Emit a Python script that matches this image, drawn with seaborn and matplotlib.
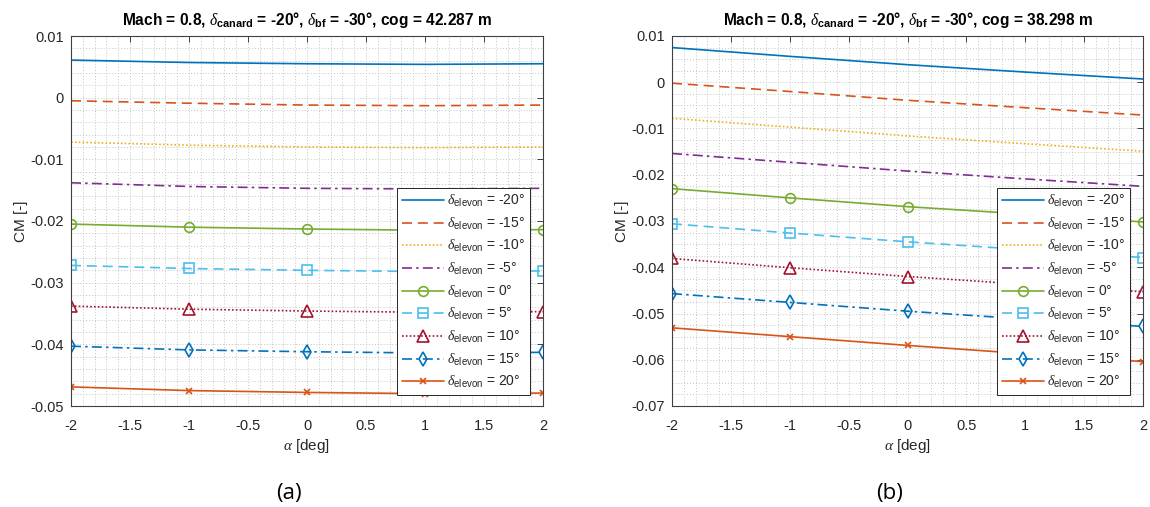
import numpy as np
import pandas as pd
import matplotlib
matplotlib.use("Agg")
import matplotlib.pyplot as plt
import seaborn as sns
from matplotlib.ticker import MultipleLocator

# ---------------- data ----------------
alpha = [-2, -1, 0, 1, 2]
elevon = [-20, -15, -10, -5, 0, 5, 10, 15, 20]

cm_a = {
    -20: [0.0061, 0.0057, 0.0055, 0.0054, 0.0055],
    -15: [-0.0005, -0.0009, -0.0012, -0.0013, -0.0012],
    -10: [-0.0072, -0.0077, -0.0080, -0.0081, -0.0080],
    -5: [-0.0138, -0.0144, -0.0147, -0.0148, -0.0147],
    0: [-0.0205, -0.0210, -0.0213, -0.0215, -0.0214],
    5: [-0.0272, -0.0277, -0.0280, -0.0282, -0.0281],
    10: [-0.0338, -0.0343, -0.0346, -0.0348, -0.0347],
    15: [-0.0403, -0.0409, -0.0412, -0.0414, -0.0413],
    20: [-0.0469, -0.0475, -0.0478, -0.0480, -0.0479],
}
cm_b = {
    -20: [0.0075, 0.0056, 0.0038, 0.0022, 0.0007],
    -15: [-0.0002, -0.0020, -0.0039, -0.0055, -0.0071],
    -10: [-0.0078, -0.0097, -0.0116, -0.0133, -0.0149],
    -5: [-0.0154, -0.0173, -0.0192, -0.0209, -0.0225],
    0: [-0.0230, -0.0250, -0.0269, -0.0285, -0.0302],
    5: [-0.0306, -0.0326, -0.0345, -0.0362, -0.0379],
    10: [-0.0381, -0.0401, -0.0420, -0.0437, -0.0453],
    15: [-0.0457, -0.0476, -0.0495, -0.0512, -0.0528],
    20: [-0.0531, -0.0550, -0.0569, -0.0587, -0.0604],
}
titles = [
    r"Mach = 0.8, $\delta_{\mathbf{canard}}$ = -20°, $\delta_{\mathbf{bf}}$ = -30°, cog = 42.287 m",
    r"Mach = 0.8, $\delta_{\mathbf{canard}}$ = -20°, $\delta_{\mathbf{bf}}$ = -30°, cog = 38.298 m",
]
panel_labels = ["(a)", "(b)"]
ylims = [(-0.05, 0.01), (-0.07, 0.01)]
yminor = [0.002, 0.0025]

# ---------------- styles ----------------
colors = ["#0072BD", "#D95319", "#EDB120", "#7E2F8E", "#77AC30",
          "#4DBEEE", "#A2142F", "#0072BD", "#D95319"]
dash = (0, (6, 3.5))
dot = (0, (1, 1.3))
dashdot = (0, (6, 2.5, 1.5, 2.5))
linestyles = ["-", dash, dot, dashdot, "-", dash, dot, dashdot, "-"]
markers = [None, None, None, None, "o", "s", "^", "d", "x"]
msizes = [0, 0, 0, 0, 7, 6.5, 8, 7.5, 5]

sns.set_theme(style="white")
plt.rcParams["font.family"] = ["Liberation Sans", "DejaVu Sans"]
plt.rcParams["mathtext.fontset"] = "custom"
plt.rcParams["mathtext.rm"] = "Liberation Sans"
plt.rcParams["mathtext.it"] = "Liberation Serif:italic"
plt.rcParams["mathtext.bf"] = "Liberation Sans:bold"

fig = plt.figure(figsize=(11.5, 5.07), dpi=100)
W, H = 1150, 507
axes_px = [(71, 36, 472, 370), (672, 36, 471, 370)]
dark = "#262626"

for i, (data, (px, py, pw, ph)) in enumerate(zip([cm_a, cm_b], axes_px)):
    ax = fig.add_axes([px / W, 1 - (py + ph) / H, pw / W, ph / H])
    df = pd.DataFrame(
        [(a, e, v) for e in elevon for a, v in zip(alpha, data[e])],
        columns=["alpha", "elevon", "cm"],
    )
    for k, e in enumerate(elevon):
        sub = df[df["elevon"] == e]
        sns.lineplot(
            data=sub, x="alpha", y="cm", ax=ax, color=colors[k],
            linestyle=linestyles[k], marker=markers[k], markersize=msizes[k],
            markerfacecolor="none", markeredgecolor=colors[k],
            markeredgewidth=1.2, linewidth=1.2,
            label=r"$\delta_{\mathrm{elevon}}$ = %d°" % e,
        )
    ax.set_xlim(-2, 2)
    ax.set_ylim(*ylims[i])
    ax.xaxis.set_minor_locator(MultipleLocator(0.1))
    ax.yaxis.set_minor_locator(MultipleLocator(yminor[i]))
    ax.set_xticks(np.arange(-2, 2.01, 0.5))
    ax.set_xticklabels(["-2", "-1.5", "-1", "-0.5", "0", "0.5", "1", "1.5", "2"])
    yt = np.arange(ylims[i][0], ylims[i][1] + 1e-9, 0.01)
    ax.set_yticks(yt)
    ax.set_yticklabels(["0" if abs(v) < 1e-9 else ("%g" % round(v, 3)) for v in yt])
    ax.grid(which="both", linestyle=(0, (1, 2)), color="#c4c4c4", linewidth=0.7)
    ax.tick_params(which="major", direction="in", length=4, width=0.6,
                   top=True, right=True, labelsize=10.5, colors=dark)
    ax.tick_params(axis="x", which="major", pad=9)
    ax.tick_params(axis="y", which="major", pad=5)
    ax.tick_params(which="minor", length=0)
    for sp in ax.spines.values():
        sp.set_color("#404040")
        sp.set_linewidth(0.8)
    ax.set_xlabel(r"$\alpha$ [deg]", fontsize=11, color=dark, labelpad=3)
    ax.set_ylabel("CM [-]", fontsize=11, color=dark, labelpad=2)
    ax.set_title(titles[i], fontsize=11.2, fontweight="bold", color="black", pad=8)
    leg = ax.legend(
        loc="lower right", bbox_to_anchor=(1 - 13 / pw, 11 / ph),
        borderaxespad=0, fontsize=10, frameon=True, fancybox=False,
        framealpha=1, edgecolor=dark, handlelength=3.0, handletextpad=0.25,
        labelspacing=0.47, borderpad=0.35, numpoints=1,
    )
    leg.get_frame().set_linewidth(0.7)
    fig.text((px + pw / 2 - 18) / W, 1 - 493 / H, panel_labels[i],
             fontsize=16, family=["Open Sans", "DejaVu Sans"],
             ha="center", va="center", color="black")

fig.savefig("out.png", dpi=100, facecolor="white")
